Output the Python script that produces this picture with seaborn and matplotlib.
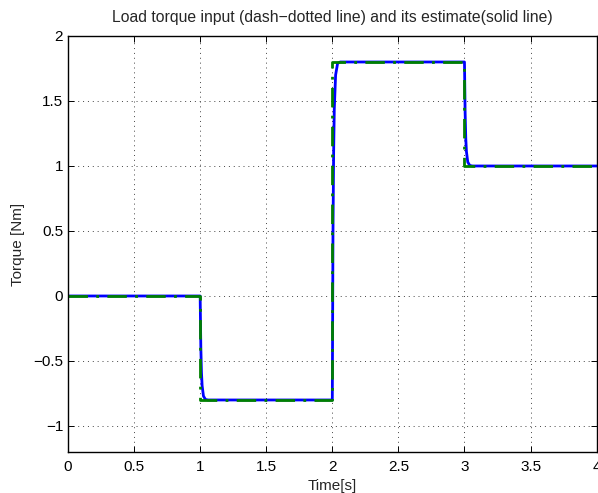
import matplotlib
matplotlib.use("Agg")
import matplotlib.pyplot as plt
import seaborn as sns
import pandas as pd

# Load torque input (piecewise constant), given as corner points
input_t = [0.0, 1.0, 1.0, 2.0, 2.0, 3.0, 3.0, 4.0]
input_v = [0.0, 0.0, -0.8, -0.8, 1.8, 1.8, 1.0, 1.0]

# Estimated torque
est_t = [0.0, 1.0, 1.005, 1.01, 1.015, 1.025, 1.04, 1.06,
         2.0, 2.005, 2.01, 2.015, 2.025, 2.04, 2.06,
         3.0, 3.005, 3.01, 3.015, 3.025, 3.04, 3.06, 4.0]
est_v = [0.0, 0.0, -0.39, -0.59, -0.69, -0.77, -0.796, -0.8,
         -0.8, 0.47, 1.10, 1.44, 1.70, 1.79, 1.80,
         1.8, 1.41, 1.21, 1.11, 1.03, 1.004, 1.0, 1.0]

xticks = [0, 0.5, 1, 1.5, 2, 2.5, 3, 3.5, 4]
yticks = [-1, -0.5, 0, 0.5, 1, 1.5, 2]

sns.set_style("ticks")
plt.rcParams['font.family'] = ['Liberation Sans', 'DejaVu Sans']
plt.rcParams['xtick.direction'] = 'in'
plt.rcParams['ytick.direction'] = 'in'

fig = plt.figure(figsize=(5.98, 4.93), dpi=100)
ax = fig.add_axes([0.1137, 0.0832, 0.884, 0.8438])

df_est = pd.DataFrame({"t": est_t, "v": est_v})
df_in = pd.DataFrame({"t": input_t, "v": input_v})

sns.lineplot(data=df_est, x="t", y="v", ax=ax, color=(0, 0, 1), lw=2, sort=False, estimator=None)
sns.lineplot(data=df_in, x="t", y="v", ax=ax, color=(0, 0.5, 0), lw=2, sort=False, estimator=None,
             linestyle=(0, (7, 3, 1, 3)))

fs = 11
ax.set_xlim(0, 4)
ax.set_ylim(-1.2, 2)
ax.set_xticks(xticks)
ax.set_xticklabels(["0", "0.5", "1", "1.5", "2", "2.5", "3", "3.5", "4"])
ax.set_yticks(yticks)
ax.set_yticklabels(["\u22121", "\u22120.5", "0", "0.5", "1", "1.5", "2"])
ax.grid(True, linestyle=(0, (1, 4)), color='#444444', lw=0.7)
ax.tick_params(labelsize=fs, length=4, width=0.7, top=True, right=True, colors='black')
ax.tick_params(axis='x', pad=6)
ax.tick_params(axis='y', pad=3.5)
for s in ax.spines.values():
    s.set_linewidth(1.0)
    s.set_color('black')
ax.set_xlabel("Time[s]", fontsize=fs, labelpad=3.5)
ax.set_ylabel("Torque [Nm]", fontsize=fs, labelpad=6)
ax.set_title("Load torque input (dash\u2212dotted line) and its estimate(solid line)", fontsize=11.3, pad=10)

fig.savefig("out.png", dpi=100)
